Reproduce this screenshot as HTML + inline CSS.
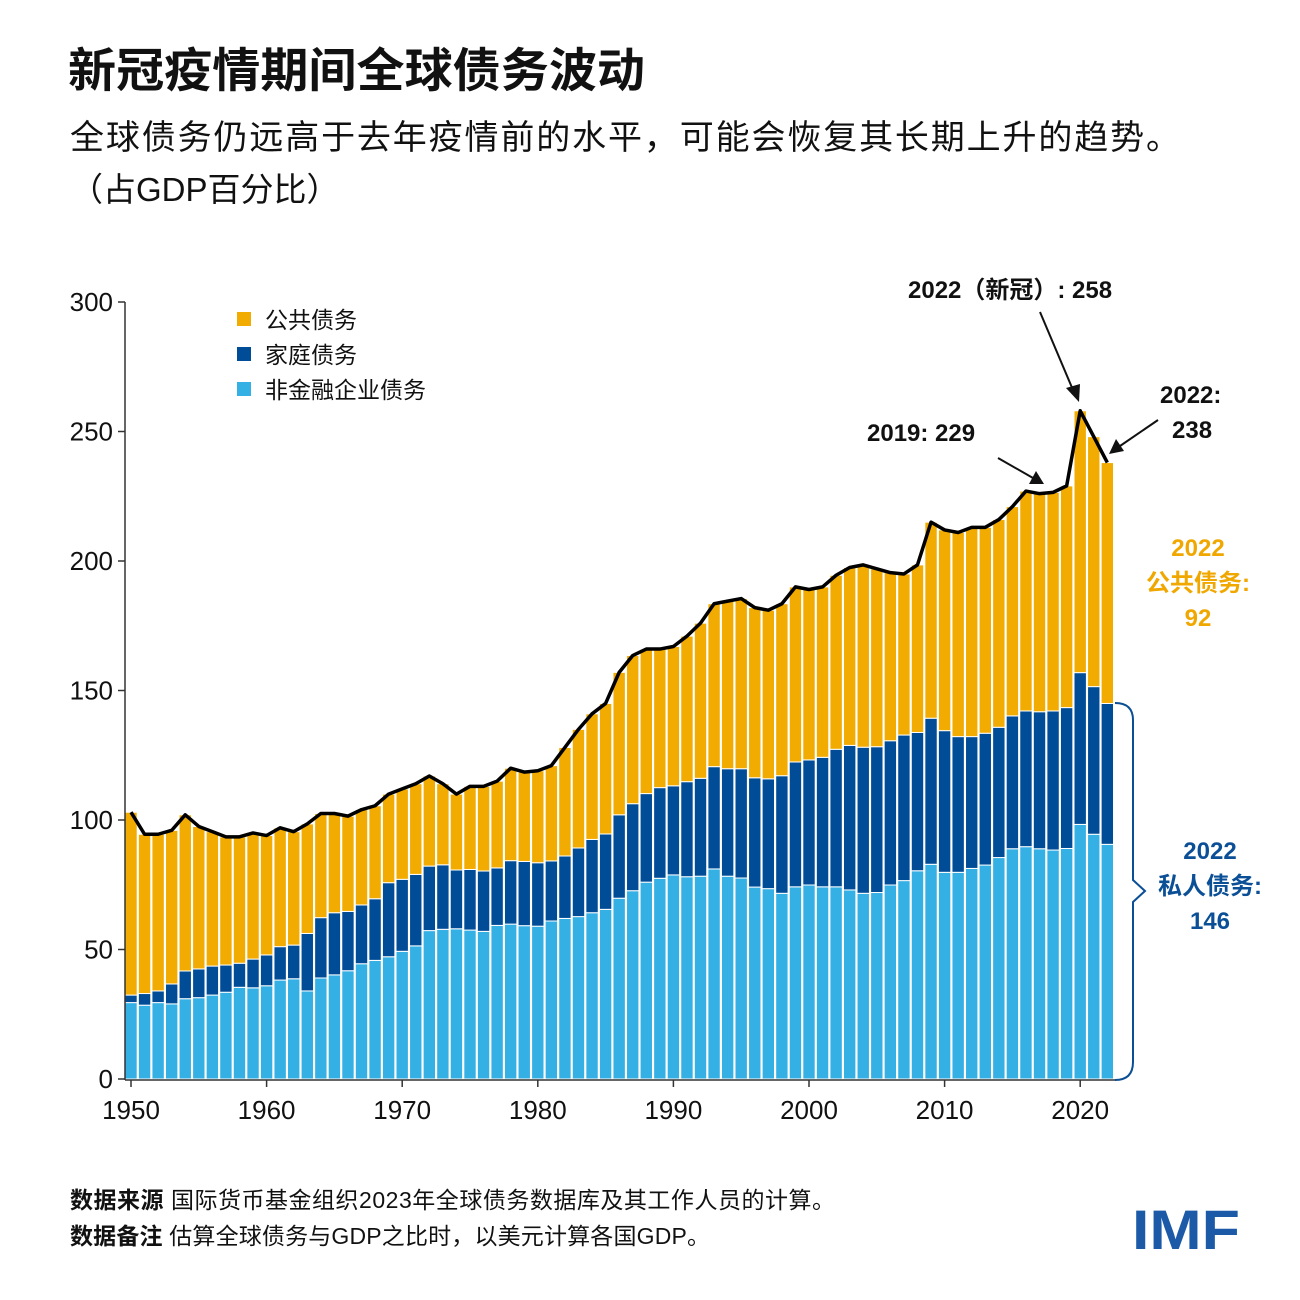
<!DOCTYPE html>
<html><head><meta charset="utf-8">
<style>
body{margin:0;background:#fff;width:1300px;height:1300px;overflow:hidden;font-family:"Liberation Sans","Noto Sans CJK SC",sans-serif;}
svg{position:absolute;left:0;top:0}
</style></head>
<body>
<svg id="chart" width="1300" height="1300" xmlns="http://www.w3.org/2000/svg" font-family="Liberation Sans, Noto Sans CJK SC, sans-serif">
<text x="68" y="87" font-size="47" font-weight="bold" fill="#111" textLength="577" lengthAdjust="spacingAndGlyphs">新冠疫情期间全球债务波动</text>
<text x="70" y="149" font-size="34" fill="#111" textLength="1110" lengthAdjust="spacing">全球债务仍远高于去年疫情前的水平，可能会恢复其长期上升的趋势。</text>
<text x="70" y="201" font-size="33" fill="#111">（占GDP百分比）</text>
<g id="bars"></g>
<g id="axes"></g>
<g font-size="23" fill="#111">
<rect x="237" y="312" width="14" height="14" fill="#f2ab00"/>
<text x="265" y="328">公共债务</text>
<rect x="237" y="347" width="14" height="14" fill="#004c97"/>
<text x="265" y="363">家庭债务</text>
<rect x="237" y="382" width="14" height="14" fill="#35b0e5"/>
<text x="265" y="398">非金融企业债务</text>
</g>
<g font-weight="bold" font-size="24" fill="#111">
<text x="908" y="298">2022（新冠）: 258</text>
<line x1="1040" y1="312" x2="1073" y2="390" stroke="#111" stroke-width="2"/>
<polygon points="1079,402 1066,388 1080,384" fill="#111"/>
<text x="1160" y="403">2022:</text>
<text x="1172" y="438">238</text>
<line x1="1158" y1="420" x2="1120" y2="446" stroke="#111" stroke-width="2"/>
<polygon points="1109,454 1116,439 1124,451" fill="#111"/>
<text x="867" y="441">2019: 229</text>
<line x1="998" y1="458" x2="1033" y2="478" stroke="#111" stroke-width="2"/>
<polygon points="1044,484 1029,484 1036,471" fill="#111"/>
<g fill="#f0a800" text-anchor="middle">
<text x="1198" y="556">2022</text>
<text x="1198" y="591">公共债务:</text>
<text x="1198" y="626">92</text>
</g>
<g fill="#0b4f96" text-anchor="middle">
<text x="1210" y="859">2022</text>
<text x="1210" y="894">私人债务:</text>
<text x="1210" y="929">146</text>
</g>
<path d="M1115,703 Q1133,703 1133,720 L1133,880 L1145,891 L1133,902 L1133,1062 Q1133,1080 1115,1080" fill="none" stroke="#0b4f96" stroke-width="2"/>
</g>
<g font-size="23" fill="#111">
<text x="70" y="1208" textLength="765" lengthAdjust="spacing"><tspan font-weight="bold">数据来源</tspan> 国际货币基金组织2023年全球债务数据库及其工作人员的计算。</text>
<text x="70" y="1244" textLength="640" lengthAdjust="spacing"><tspan font-weight="bold">数据备注</tspan> 估算全球债务与GDP之比时，以美元计算各国GDP。</text>
<text x="1132" y="1249" font-size="56" font-weight="bold" fill="#1c5aa8" textLength="108" lengthAdjust="spacingAndGlyphs">IMF</text>
</g>
</svg>
<script>
const years = [];
for (let y = 1950; y <= 2022; y++) years.push(y);
const corporate = [29.5,28.5,29.5,29,31,31.4,32.4,33.5,35.4,35.2,36,38.2,38.7,34,39,40.2,41.8,44.5,45.8,47.2,49.3,51.4,57.3,57.8,58,57.5,57,59.3,59.8,59.2,59,61,62,62.7,64.2,65.5,69.8,72.7,76,77.5,78.8,78.1,78.3,81.1,78.3,77.6,74.1,73.5,71.7,74.2,74.9,74.2,74.2,73,71.7,72,74.9,76.6,80.4,82.9,79.8,79.8,81.3,82.6,85.5,88.9,89.7,88.9,88.4,89,98.3,94.5,90.6];
const household = [2.9,4.5,4.5,7.7,10.7,11.1,11.2,10.5,9.3,11.1,11.9,12.9,13,22.2,23.3,24,22.9,22.7,23.8,28.6,27.8,27.6,24.9,24.9,22.7,23.4,23.3,22.2,24.5,24.8,24.5,23.2,24.1,26.5,28.3,29.1,32.2,33.6,34.2,35,34.4,36.7,37.8,39.5,41.5,42.2,42.2,42.4,45.4,48.2,48.3,50,53.1,55.8,56.4,56.3,55.7,56.2,53.4,56.4,54.7,52.4,50.9,50.9,50.3,51.3,52.4,52.9,53.7,54.4,58.6,57,54.4];
const publicDebt = [70.6,61.5,60.5,59.3,60.3,55,51.9,49.5,48.8,48.7,46.1,45.9,43.8,42.3,40.2,38.3,36.8,36.8,35.9,34.2,34.9,35,34.8,31.3,29.3,32.1,32.7,33.5,35.7,34.5,35.5,36.8,41.9,45.8,48.5,50.4,55,57.2,55.8,53.5,53.8,56.2,59.9,62.9,64.7,65.7,65.7,65.1,66.4,67.6,65.8,65.8,67.2,68.7,70.4,68.7,64.9,62.2,64.7,75.7,77.5,78.8,80.8,79.5,80.2,80.8,84.9,84.2,84.4,85.6,101.1,96.5,93];
const yTicks = [0,50,100,150,200,250,300];
const xTicks = [1950,1960,1970,1980,1990,2000,2010,2020];

const NS = "http://www.w3.org/2000/svg";
const x = yr => 131 + (yr - 1950) * 13.56;
const y = v => 1079 - v * 2.59;
function mk(tag, attrs, parent) {
  const e = document.createElementNS(NS, tag);
  for (const k in attrs) e.setAttribute(k, attrs[k]);
  parent.appendChild(e);
  return e;
}
const bars = document.getElementById('bars');
const axes = document.getElementById('axes');
const bw = 12.4;
const linePts = [];
years.forEach((yr, i) => {
  const segs = [[corporate[i], '#35b0e5', 'bar-corporate'], [household[i], '#004c97', 'bar-household'], [publicDebt[i], '#f2ab00', 'bar-public']];
  let base = 0;
  segs.forEach(([v, c, n]) => {
    const r = mk('rect', {x: x(yr) - bw / 2, y: y(base + v), width: bw, height: y(base) - y(base + v), fill: c, stroke: '#fff', 'stroke-width': 1}, bars);
    
    
    base += v;
  });
  linePts.push(x(yr) + ',' + y(base));
});
const ln = mk('polyline', {points: linePts.join(' '), fill: 'none', stroke: '#000', 'stroke-width': 3.5, 'stroke-linejoin': 'round'}, bars);



const ya = mk('line', {x1: 125, y1: 302, x2: 125, y2: 1080, stroke: '#333', 'stroke-width': 1.5}, axes);


yTicks.forEach(t => {
  mk('line', {x1: 118, x2: 125, y1: y(t), y2: y(t), stroke: '#333', 'stroke-width': 1.5}, axes);
  const tx = mk('text', {x: 113, y: y(t) + 9, 'text-anchor': 'end', 'font-size': 26, fill: '#111'}, axes);
  tx.textContent = t;
  
  
});
const xa = mk('line', {x1: 125, y1: 1080, x2: 1115, y2: 1080, stroke: '#333', 'stroke-width': 1.5}, axes);


xTicks.forEach(t => {
  mk('line', {x1: x(t), x2: x(t), y1: 1080, y2: 1087, stroke: '#333', 'stroke-width': 1.5}, axes);
  const tx = mk('text', {x: x(t), y: 1119, 'text-anchor': 'middle', 'font-size': 26, fill: '#111'}, axes);
  tx.textContent = t;
  
  
});
</script>
</body></html>
